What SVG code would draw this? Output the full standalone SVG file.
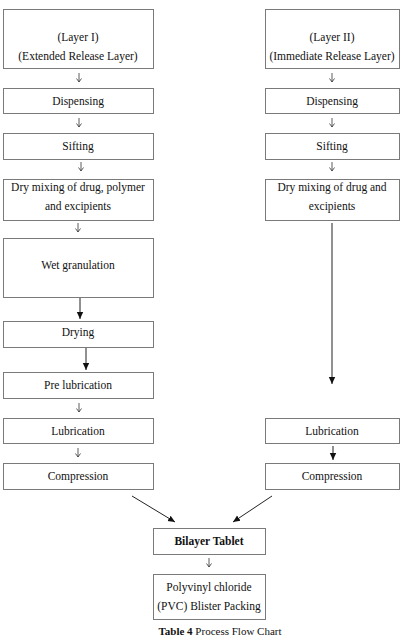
<svg xmlns="http://www.w3.org/2000/svg" width="408" height="639" viewBox="0 0 408 639">
<defs>
<style>
.box{fill:#fff;stroke:#7a7a7a;stroke-width:1}
text{font-family:'Liberation Serif','Times New Roman',Times,serif;font-size:11.5px;fill:#111;text-anchor:middle}
.b{font-weight:bold}
.c{fill:none;stroke:#222;stroke-width:1}
.s{fill:none;stroke:#333;stroke-width:0.8}
</style>
<marker id="fh" markerWidth="8" markerHeight="8" refX="7" refY="4" orient="auto" markerUnits="userSpaceOnUse">
<path d="M0,0.8 L7,4 L0,7.2 Z" fill="#111"/>
</marker>
<marker id="oh" markerWidth="6" markerHeight="6" refX="4" refY="3" orient="auto" markerUnits="userSpaceOnUse">
<path d="M0.5,0.5 L4,3 L0.5,5.5" fill="none" stroke="#333" stroke-width="0.8"/>
</marker>
</defs>
<rect width="408" height="639" fill="#fff"/>

<g id="connectors">
<path class="s" d="M79,73 V82" marker-end="url(#oh)"/>
<path class="s" d="M79,118 V127" marker-end="url(#oh)"/>
<path class="s" d="M81,162 V171" marker-end="url(#oh)"/>
<path class="s" d="M78,223 V232" marker-end="url(#oh)"/>
<path class="c" d="M80,297 V319" marker-end="url(#fh)"/>
<path class="c" d="M86,347 V370" marker-end="url(#fh)"/>
<path class="s" d="M79,403 V412" marker-end="url(#oh)"/>
<path class="s" d="M78,448 V457" marker-end="url(#oh)"/>
<path class="s" d="M332,73 V82" marker-end="url(#oh)"/>
<path class="s" d="M332,118 V127" marker-end="url(#oh)"/>
<path class="s" d="M332,162 V171" marker-end="url(#oh)"/>
<path class="c" d="M332,223 V384" marker-end="url(#fh)"/>
<path class="c" d="M333,446 V460" marker-end="url(#fh)"/>
<path class="c" d="M132,496 L175,522" marker-end="url(#fh)"/>
<path class="c" d="M272,496 L233,522" marker-end="url(#fh)"/>
<path class="s" d="M209,558 V567" marker-end="url(#oh)"/>
</g>

<g id="l1"><rect class="box" x="3.5" y="9.5" width="150" height="59"/><text x="78" y="41">(Layer I)</text><text x="78" y="60">(Extended Release Layer)</text></g>
<g id="l2"><rect class="box" x="3.5" y="88.5" width="150" height="25"/><text x="78" y="105">Dispensing</text></g>
<g id="l3"><rect class="box" x="3.5" y="133.5" width="150" height="26"/><text x="78" y="150">Sifting</text></g>
<g id="l4"><rect class="box" x="3.5" y="179.5" width="150" height="41"/><text x="78" y="191">Dry mixing of drug, polymer</text><text x="78" y="210">and excipients</text></g>
<g id="l5"><rect class="box" x="3.5" y="238.5" width="150" height="59"/><text x="78" y="269">Wet granulation</text></g>
<g id="l6"><rect class="box" x="3.5" y="321.5" width="150" height="26"/><text x="78" y="336">Drying</text></g>
<g id="l7"><rect class="box" x="3.5" y="372.5" width="150" height="26"/><text x="78" y="389">Pre lubrication</text></g>
<g id="l8"><rect class="box" x="3.5" y="418.5" width="150" height="25"/><text x="78" y="435">Lubrication</text></g>
<g id="l9"><rect class="box" x="3.5" y="463.5" width="150" height="26"/><text x="78" y="480">Compression</text></g>

<g id="r1"><rect class="box" x="265.5" y="9.5" width="134" height="59"/><text x="332" y="41">(Layer II)</text><text x="332" y="60">(Immediate Release Layer)</text></g>
<g id="r2"><rect class="box" x="265.5" y="88.5" width="134" height="25"/><text x="332" y="105">Dispensing</text></g>
<g id="r3"><rect class="box" x="265.5" y="133.5" width="134" height="26"/><text x="332" y="150">Sifting</text></g>
<g id="r4"><rect class="box" x="265.5" y="179.5" width="134" height="41"/><text x="332" y="191">Dry mixing of drug and</text><text x="332" y="210">excipients</text></g>
<g id="r5"><rect class="box" x="265.5" y="418.5" width="134" height="25"/><text x="332" y="435">Lubrication</text></g>
<g id="r6"><rect class="box" x="265.5" y="463.5" width="134" height="26"/><text x="332" y="480">Compression</text></g>

<g id="bilayer"><rect class="box" x="153.5" y="528.5" width="112" height="26"/><text class="b" x="209" y="545">Bilayer Tablet</text></g>
<g id="pvc"><rect class="box" x="153.5" y="574.5" width="112" height="45"/><text x="209" y="591">Polyvinyl chloride</text><text x="209" y="610">(PVC) Blister Packing</text></g>

<text x="220" y="635" style="font-size:11px"><tspan class="b">Table 4</tspan> Process Flow Chart</text>
</svg>
